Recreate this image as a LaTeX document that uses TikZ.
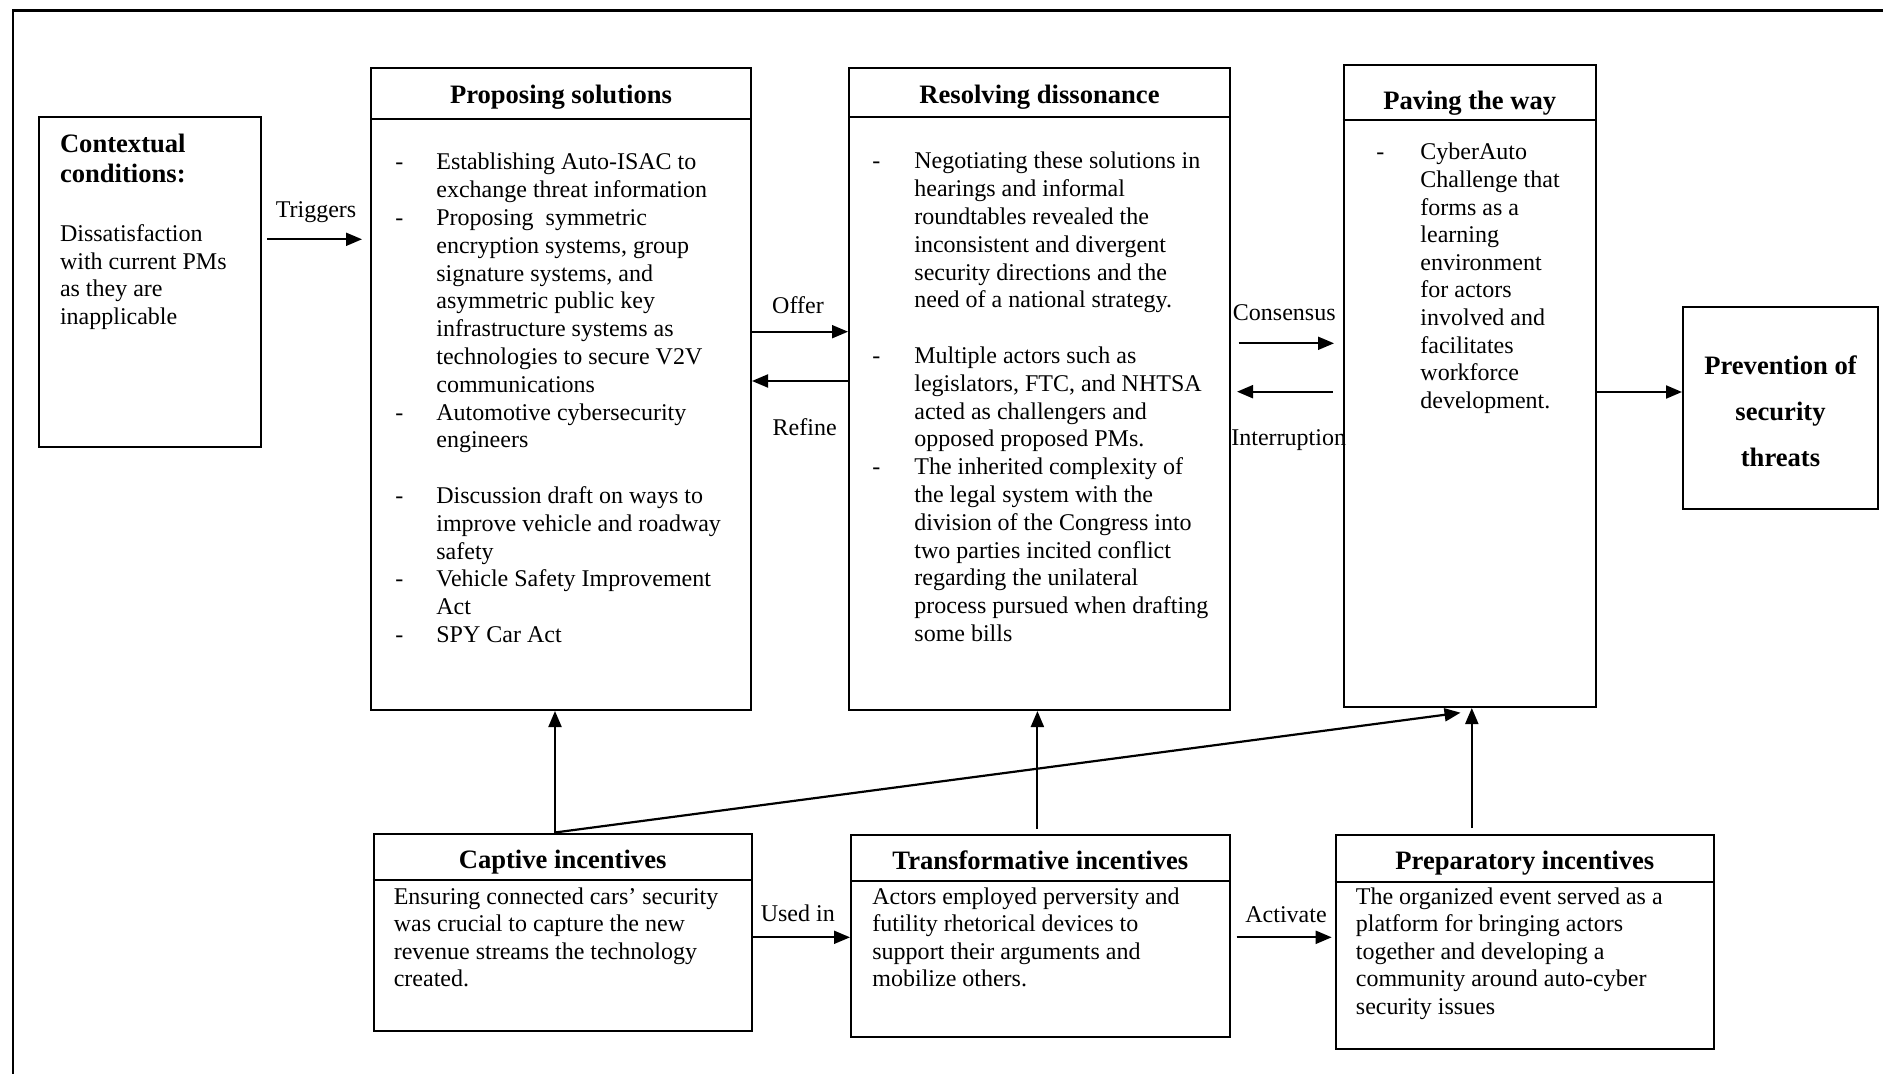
\documentclass[tikz,border=0pt]{standalone}
\usepackage{fontspec}
\setmainfont{Liberation Serif}
\usetikzlibrary{arrows.meta,calc}

\tikzset{
  box/.style={draw, line width=1pt, rectangle, inner sep=0pt},
  divider/.style={line width=0.8pt},
  arr/.style={line width=1pt, -{Triangle[length=8pt,width=6.5pt]}},
  head/.style={font=\fontsize{13.3}{15}\selectfont\bfseries, anchor=base, inner sep=0pt},
  body/.style={font=\fontsize{12}{13.8}\selectfont, anchor=base west, inner sep=0pt},
  bodywide/.style={font=\fontsize{12}{13.9}\selectfont, anchor=base west, inner sep=0pt},
  lbl/.style={font=\fontsize{12}{13.8}\selectfont, anchor=base, inner sep=0pt},
}

\begin{document}
\begin{tikzpicture}[x=0.5pt,y=-0.5pt]
\useasboundingbox (0,0) rectangle (1883,1074);

% open frame (top and left edges)
\draw[line width=1.2pt] (13,1080) -- (13,10.5) -- (1890,10.5);

% boxes
\node[box, minimum width=111pt,    minimum height=165pt]   (ctx)  at (150,282) {};
\node[box, minimum width=190pt,    minimum height=321pt]   (prop) at (561,389) {};
\node[box, minimum width=190.5pt,  minimum height=321pt]   (res)  at (1039.5,389) {};
\node[box, minimum width=126.25pt, minimum height=321pt]   (pav)  at (1469.75,386) {};
\node[box, minimum width=97.5pt,   minimum height=101pt]   (prev) at (1780.5,408) {};
\node[box, minimum width=189.1pt,  minimum height=98.75pt] (cap)  at (562.6,932.25) {};
\node[box, minimum width=189.35pt, minimum height=101pt]   (tra)  at (1040.35,936) {};
\node[box, minimum width=189.15pt, minimum height=107pt]   (pre)  at (1524.85,942) {};

% header dividers
\draw[divider] ($(prop.north west)+(0,52)$) -- ($(prop.north east)+(0,52)$);
\draw[divider] ($(res.north west)+(0,50)$)  -- ($(res.north east)+(0,50)$);
\draw[divider] ($(pav.north west)+(0,56)$)  -- ($(pav.north east)+(0,56)$);
\draw[divider] ($(cap.north west)+(0,47.5)$) -- ($(cap.north east)+(0,47.5)$);
\draw[divider] ($(tra.north west)+(0,46.7)$) -- ($(tra.north east)+(0,46.7)$);
\draw[divider] ($(pre.north west)+(0,47.7)$) -- ($(pre.north east)+(0,47.7)$);

% contextual conditions
\node[head, anchor=base west] (ctxHead) at (59.6,152.5)
  {\begin{tabular}[t]{@{}l@{}}Contextual\\ conditions:\end{tabular}};
\node[body] (ctxText) at (59.6,241.5)
  {\begin{tabular}[t]{@{}l@{}}Dissatisfaction\\ with current PMs\\ as they are\\ inapplicable\end{tabular}};

% proposing solutions
\node[head] (propHead) at (561,104) {Proposing solutions};
\node[bodywide] (propText) at (395,170)
  {\begin{tabular}[t]{@{}p{20.5pt}@{}l@{}}
  - & Establishing Auto-ISAC to\\
    & exchange threat information\\
  - & Proposing\ \ symmetric\\
    & encryption systems, group\\
    & signature systems, and\\
    & asymmetric public key\\
    & infrastructure systems as\\
    & technologies to secure V2V\\
    & communications\\
  - & Automotive cybersecurity\\
    & engineers\\
    & \\
  - & Discussion draft on ways to\\
    & improve vehicle and roadway\\
    & safety\\
  - & Vehicle Safety Improvement\\
    & Act\\
  - & SPY Car Act
  \end{tabular}};

% resolving dissonance
\node[head] (resHead) at (1039.5,104) {Resolving dissonance};
\node[bodywide] (resText) at (872,169)
  {\begin{tabular}[t]{@{}p{21pt}@{}l@{}}
  - & Negotiating these solutions in\\
    & hearings and informal\\
    & roundtables revealed the\\
    & inconsistent and divergent\\
    & security directions and the\\
    & need of a national strategy.\\
    & \\
  - & Multiple actors such as\\
    & legislators, FTC, and NHTSA\\
    & acted as challengers and\\
    & opposed proposed PMs.\\
  - & The inherited complexity of\\
    & the legal system with the\\
    & division of the Congress into\\
    & two parties incited conflict\\
    & regarding the unilateral\\
    & process pursued when drafting\\
    & some bills
  \end{tabular}};

% paving the way
\node[head] (pavHead) at (1469.75,109.5) {Paving the way};
\node[body] (pavText) at (1376,160)
  {\begin{tabular}[t]{@{}p{22pt}@{}l@{}}
  - & CyberAuto\\
    & Challenge that\\
    & forms as a\\
    & learning\\
    & environment\\
    & for actors\\
    & involved and\\
    & facilitates\\
    & workforce\\
    & development.
  \end{tabular}};

% outcome
\node[head, font=\fontsize{13.3}{23}\selectfont\bfseries] (prevText) at (1780.5,374.5)
  {\begin{tabular}[t]{@{}c@{}}Prevention of\\ security\\ threats\end{tabular}};

% incentives
\node[head] (capHead) at (562.6,868.3) {Captive incentives};
\node[body] (capText) at (393.4,904)
  {\begin{tabular}[t]{@{}l@{}}Ensuring connected cars’ security\\ was crucial to capture the new\\ revenue streams the technology\\ created.\end{tabular}};

\node[head] (traHead) at (1040.35,869.3) {Transformative incentives};
\node[body] (traText) at (872,904)
  {\begin{tabular}[t]{@{}l@{}}Actors employed perversity and\\ futility rhetorical devices to\\ support their arguments and\\ mobilize others.\end{tabular}};

\node[head] (preHead) at (1524.85,869.3) {Preparatory incentives};
\node[body] (preText) at (1355.5,904)
  {\begin{tabular}[t]{@{}l@{}}The organized event served as a\\ platform for bringing actors\\ together and developing a\\ community around auto-cyber\\ security issues\end{tabular}};

% connector rows and columns
\coordinate (yTrig)   at (0,239.3);
\coordinate (yOffer)  at (0,331.7);
\coordinate (yRefine) at (0,381);
\coordinate (yCons)   at (0,343.3);
\coordinate (yIntr)   at (0,391.7);
\coordinate (yPrev)   at (0,392);
\coordinate (yUsed)   at (0,937.3);
\coordinate (xA) at (555,0);
\coordinate (xB) at (1037.4,0);
\coordinate (xC) at (1471.8,0);

% connectors
\draw[arr] ($(ctx.east |- yTrig)+(5,0)$) -- ($(prop.west |- yTrig)+(-8,0)$);
\draw[arr] (prop.east |- yOffer) -- (res.west |- yOffer);
\draw[arr] (res.west |- yRefine) -- (prop.east |- yRefine);
\draw[arr] ($(res.east |- yCons)+(7.5,0)$) -- ($(pav.west |- yCons)+(-8.5,0)$);
\draw[arr] ($(pav.west |- yIntr)+(-10,0)$) -- ($(res.east |- yIntr)+(6,0)$);
\draw[arr] (pav.east |- yPrev) -- (prev.west |- yPrev);
\draw[arr] (cap.east |- yUsed) -- (tra.west |- yUsed);
\draw[arr] ($(tra.east |- yUsed)+(6,0)$) -- ($(pre.west |- yUsed)+(-3,0)$);
\draw[arr] (cap.north -| xA) -- (prop.south -| xA);
\draw[arr] ($(tra.north -| xB)+(0,-5)$) -- (res.south -| xB);
\draw[arr] ($(pre.north -| xC)+(0,-6)$) -- (pav.south -| xC);
\draw[arr, line width=1.1pt] (cap.north -| xA) -- ($(pav.south)+(-9.25,4.7)$);

% connector labels
\node[lbl] (lTrig)   at (316,218) {Triggers};
\node[lbl] (lOffer)  at (798,314)   {Offer};
\node[lbl] (lRefine) at (804.7,436) {Refine};
\node[lbl, anchor=base west] (lCons) at (1232.5,321) {Consensus};
\node[lbl, anchor=base west] (lIntr) at (1231,446)   {Interruption};
\node[lbl] (lUsed)   at (797.8,921) {Used in};
\node[lbl] (lAct)    at (1286,922.5)    {Activate};
\end{tikzpicture}
\end{document}
